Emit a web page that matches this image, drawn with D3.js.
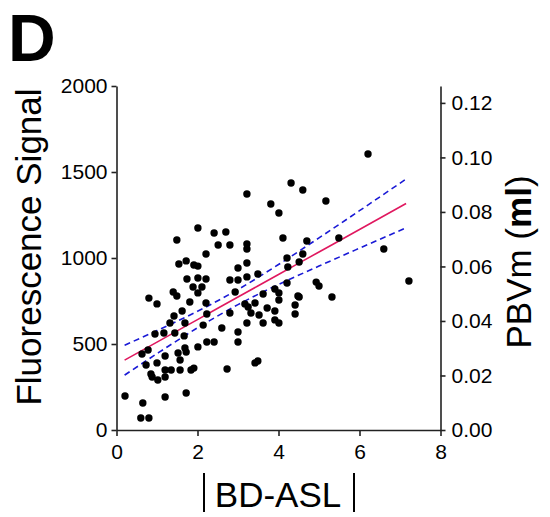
<!DOCTYPE html>
<html><head><meta charset="utf-8">
<script src="https://cdn.jsdelivr.net/npm/d3@7"></script>
<style>
html,body{margin:0;padding:0;background:#fff;}
svg{display:block;font-family:"Liberation Sans",Arial,sans-serif;}
</style></head>
<body><svg id="c" width="550" height="517"></svg>
<script>
// ---- data ----
const bdasl = [0.21,0.60,0.80,0.65,1.20,1.72,0.80,1.00,0.63,0.78,0.73,1.00,0.85,0.88,1.02,1.20,1.20,1.35,1.57,1.84,
  1.91,1.20,1.52,1.69,1.72,2.01,2.23,2.41,2.60,3.00,3.00,2.73,3.42,3.49,1.57,1.17,0.95,1.44,1.67,1.32,
  1.69,1.42,1.62,2.14,2.23,1.81,2.21,1.40,1.49,1.74,1.89,2.01,2.11,1.49,2.01,2.21,1.54,1.72,1.91,2.01,
  2.01,2.21,2.41,2.70,2.51,2.80,3.22,3.22,3.22,3.81,4.01,4.11,3.00,3.22,3.49,3.22,2.80,3.00,2.93,3.17,
  3.25,3.42,3.32,3.52,2.80,3.62,3.91,4.01,4.01,3.72,3.91,3.22,3.62,3.91,4.01,4.41,4.41,4.48,4.21,4.21,
  4.23,4.51,4.60,4.70,4.60,5.17,4.31,5.49,6.60,6.21,7.22,4.93,5.00,4.51,5.32];
const fluor = [198,70,70,157,192,215,767,733,442,465,378,390,326,308,291,308,349,349,349,349,
  360,430,448,477,453,483,512,512,593,570,512,355,390,401,407,564,558,564,547,622,
  622,663,692,610,674,744,738,802,779,878,831,797,831,1105,1174,1023,965,983,959,953,
  884,878,1145,1151,1076,1076,1081,1052,1372,1314,1262,1116,942,971,907,890,872,872,802,733,
  715,738,680,669,680,791,820,797,756,709,692,622,622,640,622,727,674,779,855,1000,
  948,977,1023,1099,1395,1331,1436,1116,1052,1605,866,860,837,773,773];
const fitX   = [0.2, 1, 2, 3, 4, 5, 6, 7.15];
const fitY   = [406, 511, 642, 773, 904, 1035, 1166, 1317];
const upperY = [493, 578, 690, 817, 962, 1117, 1275, 1459];
const lowerY = [319, 444, 594, 729, 846, 953, 1057, 1175];
const xTicks = [0, 2, 4, 6, 8];
const yTicks = [0, 500, 1000, 1500, 2000];
const rTicks = [0, 0.02, 0.04, 0.06, 0.08, 0.10, 0.12];

// ---- layout ----
const svg = d3.select("#c");
const L = 116.5, R = 440.5, T = 86, B = 430;
const x = d3.scaleLinear().domain([0, 8]).range([L, R]);
const y = d3.scaleLinear().domain([0, 2000]).range([B, T]);
const yr = d3.scaleLinear().domain([0, 0.1262]).range([B, T]);
const axisColor = "#222";

function styleAxis(g){
  g.selectAll(".domain").attr("stroke", axisColor).attr("stroke-width", 1.6);
  g.selectAll(".tick line").attr("stroke", axisColor).attr("stroke-width", 1.6);
  g.selectAll(".tick text").attr("fill", "#000").style("font-size", "21px")
    .style("font-family", "'Liberation Sans', Arial, sans-serif");
}

svg.append("g").attr("transform", `translate(0,${B})`)
  .call(d3.axisBottom(x).tickValues(xTicks).tickFormat(d3.format("d")).tickSize(6).tickSizeOuter(0).tickPadding(8))
  .call(styleAxis);
svg.append("g").attr("transform", `translate(${L},0)`)
  .call(d3.axisLeft(y).tickValues(yTicks).tickFormat(d3.format("d")).tickSize(5).tickSizeOuter(0).tickPadding(4))
  .call(styleAxis);
svg.append("g").attr("transform", `translate(${R},0)`)
  .call(d3.axisRight(yr).tickValues(rTicks).tickFormat(d3.format(".2f")).tickSize(5).tickSizeOuter(0).tickPadding(6))
  .call(styleAxis);

// ---- fit + confidence band ----
const line = (ys) => d3.line().x((d,i)=>x(fitX[i])).y((d,i)=>y(ys[i])).curve(d3.curveMonotoneX)(ys);
svg.append("path").attr("d", line(upperY)).attr("fill","none").attr("stroke","#1a1ad6")
  .attr("stroke-width",1.6).attr("stroke-dasharray","6,4");
svg.append("path").attr("d", line(lowerY)).attr("fill","none").attr("stroke","#1a1ad6")
  .attr("stroke-width",1.6).attr("stroke-dasharray","6,4");
svg.append("path").attr("d", line(fitY)).attr("fill","none").attr("stroke","#e0185f")
  .attr("stroke-width",1.6);

// ---- points ----
svg.append("g").selectAll("circle").data(bdasl).join("circle")
  .attr("cx", d=>x(d)).attr("cy", (d,i)=>y(fluor[i])).attr("r", 3.7).attr("fill", "#000");

// ---- titles ----
svg.append("text").attr("x", 8).attr("y", 61).text("D")
  .style("font-size","66px").style("font-weight","bold");
svg.append("text").attr("transform","translate(41,247) rotate(-90)").attr("text-anchor","middle")
  .style("font-size","35px").text("Fluorescence Signal");
const t2 = svg.append("text").attr("transform","translate(531,262) rotate(-90)").attr("text-anchor","middle")
  .style("font-size","35px");
t2.append("tspan").text("PBVm (");
t2.append("tspan").style("font-weight","bold").text("ml");
t2.append("tspan").text(")");
svg.append("text").attr("x", 278).attr("y", 507).attr("text-anchor","middle")
  .style("font-size","35px").text("BD-ASL");
[204, 354].forEach(bx => svg.append("line").attr("x1",bx).attr("x2",bx).attr("y1",473).attr("y2",512)
  .attr("stroke","#000").attr("stroke-width",2));
</script></body></html>
